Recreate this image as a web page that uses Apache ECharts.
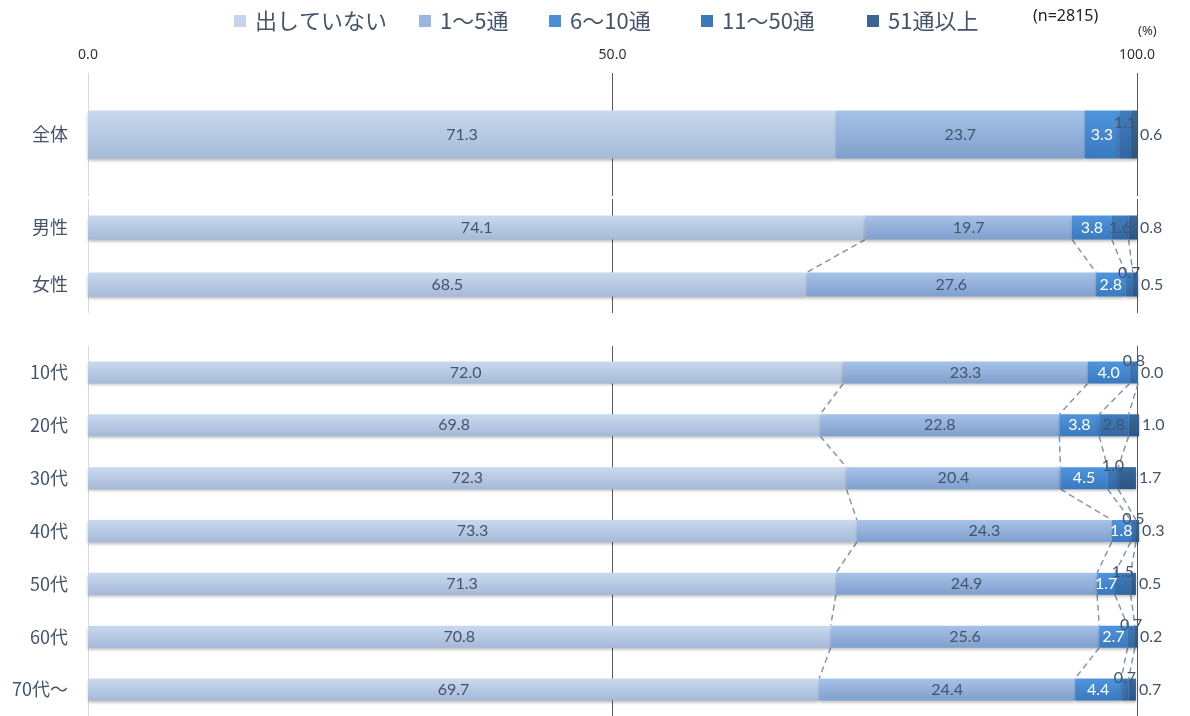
<!DOCTYPE html>
<html>
<head>
<meta charset="utf-8">
<script src="https://cdn.jsdelivr.net/npm/echarts@6/dist/echarts.min.js"></script>
<style>html,body{margin:0;padding:0;background:#fff;}#c{width:1190px;height:716px;}</style>
</head>
<body>
<div id="c"></div>
<script>
// ---- data ----
const groupAll = ['全体'];
const groupSex = ['男性', '女性'];
const groupAge = ['10代', '20代', '30代', '40代', '50代', '60代', '70代～'];
const seriesNames = ['出していない', '1～5通', '6～10通', '11～50通', '51通以上'];
// values in row order: 全体, 男性, 女性, 10代 ... 70代～
const notSent   = [71.3, 74.1, 68.5, 72.0, 69.8, 72.3, 73.3, 71.3, 70.8, 69.7];
const sent1to5  = [23.7, 19.7, 27.6, 23.3, 22.8, 20.4, 24.3, 24.9, 25.6, 24.4];
const sent6to10 = [3.3, 3.8, 2.8, 4.0, 3.8, 4.5, 1.8, 1.7, 2.7, 4.4];
const sent11to50 = [1.1, 1.6, 0.7, 0.8, 2.8, 1.0, 0.5, 1.5, 0.7, 0.7];
const sent51plus = [0.6, 0.8, 0.5, 0.0, 1.0, 1.7, 0.3, 0.5, 0.2, 0.7];
const xTicks = [0, 50, 100];
const sampleNote = '(n=2815)';
const unitNote = '(%)';

// ---- styles ----
const valueSets = [notSent, sent1to5, sent6to10, sent11to50, sent51plus];
const grad = (a, b) => ({type: 'linear', x: 0, y: 0, x2: 0, y2: 1, colorStops: [{offset: 0, color: a}, {offset: 1, color: b}]});
const fills = [
  grad('#c9d9ef', '#a5bad8'),
  grad('#a6c2e7', '#7f9fcd'),
  grad('#4f95de', '#3979bf'),
  grad('#3f7dbf', '#3268a3'),
  grad('#376a9f', '#2a5583')
];
const legendColors = ['#c5d5ea', '#9ab6dd', '#4a8ed6', '#3c78bb', '#3a6596'];
const legendLefts = [229, 414, 544, 696, 862];
const textDark = '#44546a';
const numFont = 'Lato, "Noto Sans", sans-serif';
const jpFont = '"Noto Sans CJK JP", "Noto Sans", sans-serif';

const groups = [
  {cats: groupAll, start: 0, top: 73, height: 123, bar: 48},
  {cats: groupSex, start: 1, top: 199, height: 114, bar: 24},
  {cats: groupAge, start: 3, top: 346, height: 372, bar: 22}
];

const grids = [], xAxes = [], yAxes = [], series = [];
groups.forEach((g, gi) => {
  grids.push({left: 88, right: 53, top: g.top, height: g.height, containLabel: false});
  xAxes.push({
    type: 'value', gridIndex: gi, min: 0, max: 100, interval: 50, position: 'top',
    axisLine: {show: false}, axisTick: {show: false},
    axisLabel: {show: gi === 0, margin: 11, color: '#333333', fontSize: 14, fontFamily: '"Noto Sans", sans-serif',
      formatter: v => xTicks.indexOf(v) >= 0 ? v.toFixed(1) : ''},
    splitLine: {show: true, lineStyle: {color: ['#d9d9d9', '#595959', '#595959'], width: 1}}
  });
  yAxes.push({
    type: 'category', gridIndex: gi, data: g.cats, inverse: true,
    axisLine: {show: false}, axisTick: {show: false},
    axisLabel: {margin: 20, color: textDark, fontSize: 18, fontFamily: jpFont}
  });
  valueSets.forEach((vals, si) => {
    const slice = vals.slice(g.start, g.start + g.cats.length);
    const data = slice.map(v => {
      const item = {value: v};
      if (si === 3 && v <= 1.5) {
        item.label = {offset: [0, -12]};
      }
      return item;
    });
    let label;
    if (si === 4) {
      label = {show: true, position: 'right', distance: 3, color: textDark, fontSize: 16, fontFamily: numFont, formatter: p => p.value.toFixed(1)};
    } else {
      label = {show: true, position: 'inside', color: si === 2 ? '#ffffff' : textDark, fontSize: 16, fontFamily: numFont, formatter: p => p.value.toFixed(1)};
    }
    series.push({
      type: 'bar', name: seriesNames[si], stack: 'g' + gi, xAxisIndex: gi, yAxisIndex: gi,
      barWidth: g.bar, clip: false, data: data, label: label,
      itemStyle: {color: fills[si], shadowColor: 'rgba(0,0,0,0.28)', shadowBlur: 3, shadowOffsetY: 2},
      emphasis: {disabled: true}, z: 3
    });
  });
  // series lines between neighbouring bars
  if (g.cats.length > 1) {
    const conn = [];
    for (let r = 0; r < g.cats.length - 1; r++) {
      let cu = 0, cl = 0;
      for (let s = 0; s < 4; s++) {
        cu += valueSets[s][g.start + r];
        cl += valueSets[s][g.start + r + 1];
        conn.push([cu, r, cl, r + 1]);
      }
    }
    const half = g.bar / 2;
    series.push({
      type: 'custom', xAxisIndex: gi, yAxisIndex: gi, z: 1, silent: true, clip: false,
      data: conn,
      renderItem: (params, api) => {
        const p1 = api.coord([api.value(0), api.value(1)]);
        const p2 = api.coord([api.value(2), api.value(3)]);
        return {type: 'line', shape: {x1: p1[0], y1: p1[1] + half, x2: p2[0], y2: p2[1] - half},
          style: {stroke: '#8496b0', lineWidth: 1.5, lineDash: [6, 4]}};
      }
    });
  }
});

const legends = seriesNames.map((n, i) => ({
  data: [{name: n, itemStyle: {color: legendColors[i]}}],
  left: legendLefts[i], top: 5, icon: 'rect', itemWidth: 12, itemHeight: 12,
  selectedMode: false,
  textStyle: {fontSize: 22, color: textDark, fontFamily: jpFont, padding: [0, 0, 0, 4]}
}));

const chart = echarts.init(document.getElementById('c'), null, {renderer: 'canvas'});
chart.setOption({
  animation: false,
  backgroundColor: '#ffffff',
  legend: legends,
  graphic: [
    {type: 'text', left: 1033, top: 8, style: {text: sampleNote, fontSize: 16, fill: '#222', fontFamily: '"Noto Sans", sans-serif'}},
    {type: 'text', left: 1138, top: 25, style: {text: unitNote, fontSize: 13, fill: '#333', fontFamily: '"Noto Sans", sans-serif'}}
  ],
  grid: grids,
  xAxis: xAxes,
  yAxis: yAxes,
  series: series
});
</script>
</body>
</html>
